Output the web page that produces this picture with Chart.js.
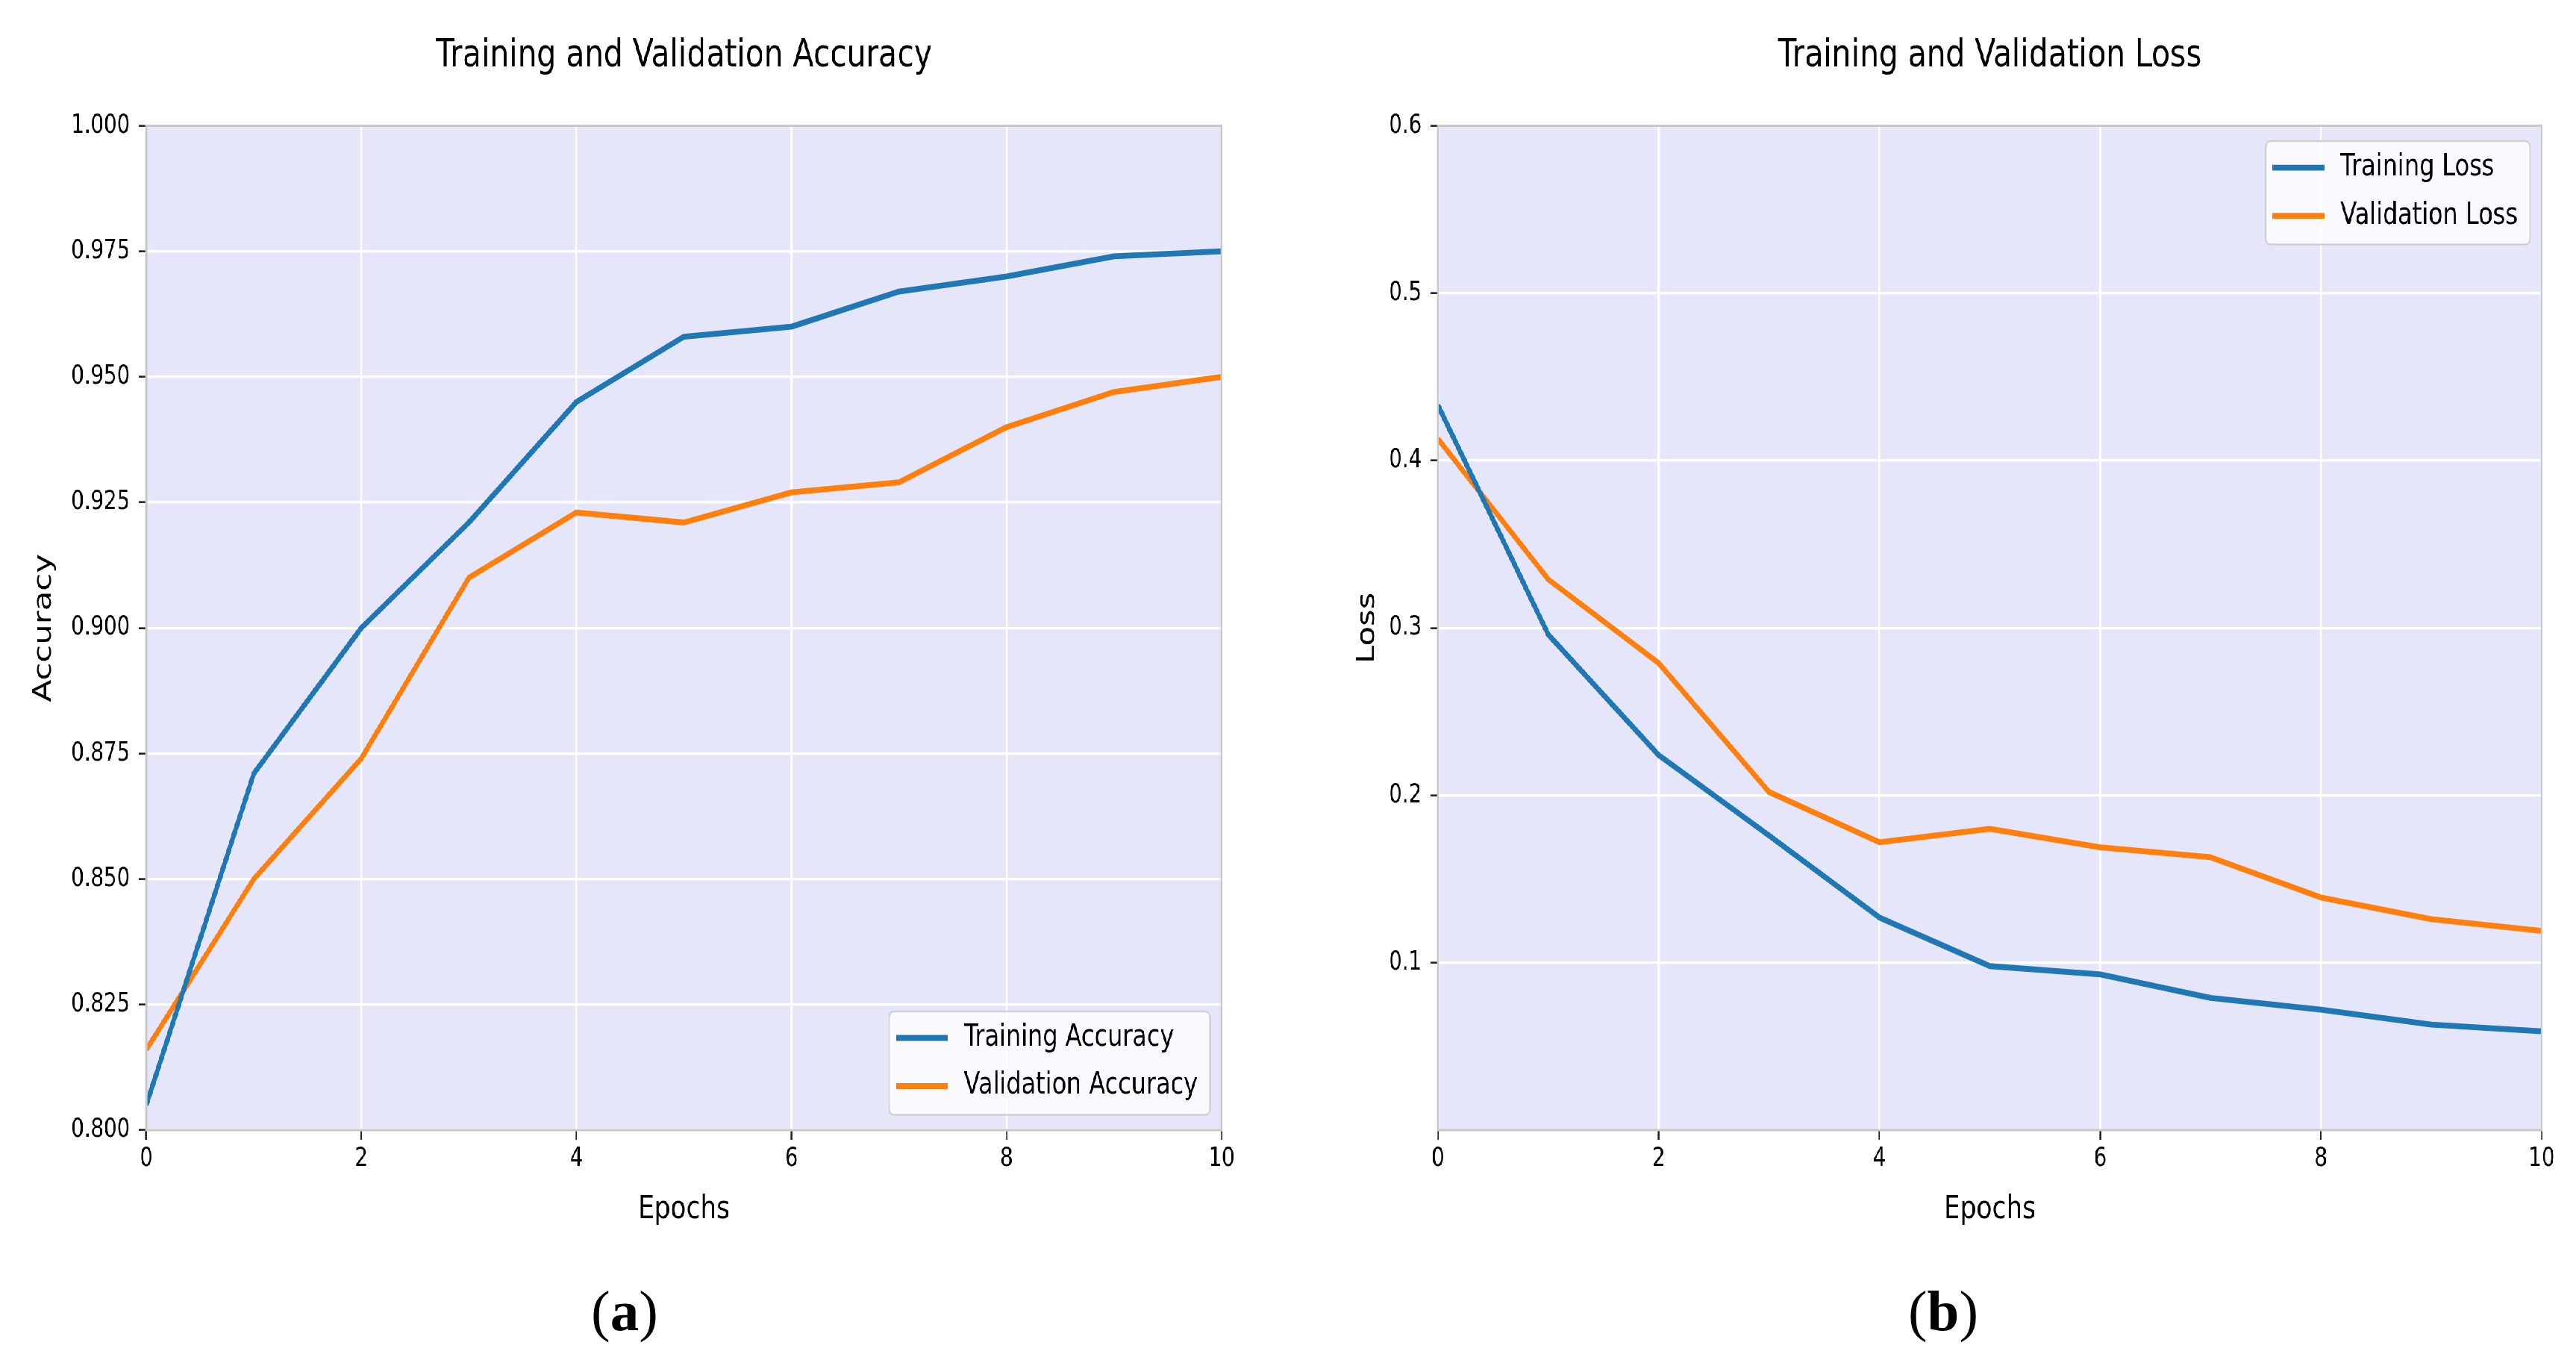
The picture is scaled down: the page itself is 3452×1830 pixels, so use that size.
<!DOCTYPE html>
<html>
<head>
<meta charset="utf-8">
<script src="https://cdn.jsdelivr.net/npm/chart.js@4.4.1/dist/chart.umd.min.js"></script>
<style>
  html, body { margin: 0; padding: 0; background: #ffffff; }
  body { width: 3452px; height: 1830px; position: relative; overflow: hidden; }
  #squish { position: absolute; left: 0; top: 0; width: 4370px; height: 1700px;
            transform: scaleX(0.79); transform-origin: 0 0; }
  .pane { position: absolute; top: 0; width: 2185px; height: 1700px; }
  .cap { position: absolute; top: 1718px; font-family: "Liberation Serif", "DejaVu Serif", serif;
         font-size: 77px; line-height: 1; transform: translateX(-50%); white-space: nowrap; color: #000; }
</style>
</head>
<body>
<div id="squish">
  <div class="pane" style="left:0px"><canvas id="accChart" width="2185" height="1700"></canvas></div>
  <div class="pane" style="left:2185px"><canvas id="lossChart" width="2185" height="1700"></canvas></div>
</div>
<div class="cap" style="left:837px">(<b>a</b>)</div>
<div class="cap" style="left:2604px">(<b>b</b>)</div>

<script>
// ---------------- data ----------------
const epochs = [0, 1, 2, 3, 4, 5, 6, 7, 8, 9, 10];
const trainAcc = [0.805, 0.871, 0.900, 0.921, 0.945, 0.958, 0.960, 0.967, 0.970, 0.974, 0.975];
const valAcc   = [0.816, 0.850, 0.874, 0.910, 0.923, 0.921, 0.927, 0.929, 0.940, 0.947, 0.950];
const trainLoss = [0.433, 0.296, 0.224, 0.176, 0.127, 0.098, 0.093, 0.079, 0.072, 0.063, 0.059];
const valLoss   = [0.413, 0.329, 0.279, 0.202, 0.172, 0.180, 0.169, 0.163, 0.139, 0.126, 0.119];
const epochTicks = [0, 2, 4, 6, 8, 10];
const accTicks = [0.800, 0.825, 0.850, 0.875, 0.900, 0.925, 0.950, 0.975, 1.000];
const lossTicks = [0.1, 0.2, 0.3, 0.4, 0.5, 0.6];
const accTitle = 'Training and Validation Accuracy';
const lossTitle = 'Training and Validation Loss';
const accLabels = ['Training Accuracy', 'Validation Accuracy'];
const lossLabels = ['Training Loss', 'Validation Loss'];

// ---------------- styles ----------------
const BLUE = '#1f77b4', ORANGE = '#ff7f0e';
const FONT = '"DejaVu Sans"';

function roundRectPath(ctx, x, y, w, h, r) {
  ctx.beginPath();
  ctx.moveTo(x + r, y);
  ctx.lineTo(x + w - r, y);
  ctx.arcTo(x + w, y, x + w, y + r, r);
  ctx.lineTo(x + w, y + h - r);
  ctx.arcTo(x + w, y + h, x + w - r, y + h, r);
  ctx.lineTo(x + r, y + h);
  ctx.arcTo(x, y + h, x, y + h - r, r);
  ctx.lineTo(x, y + r);
  ctx.arcTo(x, y, x + r, y, r);
  ctx.closePath();
}

const plotDecor = {
  id: 'plotDecor',
  beforeDraw(chart, args, o) {
    const { ctx, chartArea: a } = chart;
    ctx.save();
    ctx.fillStyle = o.background;
    ctx.fillRect(a.left, a.top, a.right - a.left, a.bottom - a.top);
    ctx.restore();
  },
  afterDatasetsDraw(chart, args, o) {
    const { ctx, chartArea: a } = chart;
    ctx.save();
    ctx.strokeStyle = o.frameColor;
    ctx.lineWidth = o.frameWidth;
    ctx.strokeRect(a.left, a.top, a.right - a.left, a.bottom - a.top);

    const L = o.legend;
    ctx.font = L.fontSize + 'px ' + FONT;
    const items = chart.data.datasets.map(d => ({ label: d.label, color: d.borderColor, width: d.borderWidth }));
    const textW = Math.max(...items.map(i => ctx.measureText(i.label).width));
    const w = L.padLeft + L.handleLength + L.handleGap + textW + L.padRight;
    const h = L.padTop + L.rowGap * (items.length - 1) + L.padBottom;
    const x = a.right - L.marginX - w;
    const y = L.corner === 'top' ? a.top + L.marginY : a.bottom - L.marginY - h;
    roundRectPath(ctx, x, y, w, h, L.radius);
    ctx.fillStyle = L.background;
    ctx.fill();
    ctx.lineWidth = L.borderWidth;
    ctx.strokeStyle = L.borderColor;
    ctx.stroke();
    items.forEach((it, i) => {
      const cy = y + L.padTop + i * L.rowGap;
      ctx.beginPath();
      ctx.moveTo(x + L.padLeft, cy);
      ctx.lineTo(x + L.padLeft + L.handleLength, cy);
      ctx.strokeStyle = it.color;
      ctx.lineWidth = it.width;
      ctx.lineCap = 'butt';
      ctx.stroke();
      ctx.fillStyle = '#000';
      ctx.textBaseline = 'middle';
      ctx.textAlign = 'left';
      ctx.fillText(it.label, x + L.padLeft + L.handleLength + L.handleGap, cy);
    });
    ctx.restore();
  }
};

function makeChart(id, cfg) {
  const ds = (label, vals, color) => ({
    label: label,
    data: epochs.map((e, i) => ({ x: e, y: vals[i] })),
    borderColor: color,
    backgroundColor: color,
    borderWidth: 7.8,
    pointRadius: 0,
    pointHoverRadius: 0,
    tension: 0,
    fill: false,
    borderJoinStyle: 'round',
    clip: 0
  });
  return new Chart(document.getElementById(id), {
    type: 'line',
    data: {
      datasets: [
        ds(cfg.labels[0], cfg.series[0], BLUE),
        ds(cfg.labels[1], cfg.series[1], ORANGE)
      ]
    },
    options: {
      responsive: false,
      animation: false,
      devicePixelRatio: 1,
      events: [],
      layout: { padding: { left: 0, top: 0, bottom: 0, right: cfg.rightPad } },
      plugins: {
        legend: { display: false },
        tooltip: { enabled: false },
        title: {
          display: true, text: cfg.title, fullSize: false, color: '#000',
          font: { family: FONT, size: 51.7, weight: 'normal' },
          padding: { top: 44.2, bottom: 62.3 }
        },
        plotDecor: {
          background: '#e6e6fa', frameColor: '#c8c8c8', frameWidth: 3,
          legend: {
            corner: cfg.legendCorner, fontSize: 40.4,
            marginX: 19.5, marginY: 20.5,
            padLeft: 12, handleLength: 88, handleGap: 27, padRight: 21,
            padTop: 35.5, rowGap: 64.5, padBottom: 38.5,
            radius: 8, background: 'rgba(255,255,255,0.8)', borderColor: '#d0d0d0', borderWidth: 2.5
          }
        }
      },
      scales: {
        x: {
          type: 'linear', min: 0, max: 10,
          afterBuildTicks: s => { s.ticks = epochTicks.map(v => ({ value: v })); },
          afterFit: s => { s.height = 186; },
          grid: { color: '#ffffff', lineWidth: 3.3, drawTicks: true, tickLength: 13, tickColor: '#222', tickWidth: 2.6 },
          border: { display: false },
          ticks: { color: '#000', font: { family: FONT, size: 35 }, padding: 5, maxRotation: 0, autoSkip: false,
                   callback: v => String(v) },
          title: { display: true, text: 'Epochs', color: '#000', font: { family: FONT, size: 43.5 },
                   padding: { top: 0, bottom: 52.9 } }
        },
        y: {
          type: 'linear', min: cfg.yMin, max: cfg.yMax,
          afterBuildTicks: s => { s.ticks = cfg.yTicks.map(v => ({ value: v })); },
          afterFit: s => { s.width = cfg.yAxisW; },
          grid: { color: '#ffffff', lineWidth: 3.3, drawTicks: true, tickLength: 13, tickColor: '#222', tickWidth: 2.6 },
          border: { display: false },
          ticks: { color: '#000', font: { family: FONT, size: 35 }, padding: 14.5, autoSkip: false,
                   callback: v => v.toFixed(cfg.decimals) },
          title: { display: true, text: cfg.yLabel, color: '#000', font: { family: FONT, size: 43.5 },
                   padding: { top: cfg.yTitlePad, bottom: 0 } }
        }
      }
    },
    plugins: [plotDecor]
  });
}

makeChart('accChart', {
  title: accTitle, labels: accLabels, series: [trainAcc, valAcc],
  yMin: 0.8, yMax: 1.0, yTicks: accTicks, decimals: 3, yLabel: 'Accuracy',
  yAxisW: 248.1, rightPad: 112.8, yTitlePad: 48.2, legendCorner: 'bottom'
});
makeChart('lossChart', {
  title: lossTitle, labels: lossLabels, series: [trainLoss, valLoss],
  yMin: 0, yMax: 0.6, yTicks: lossTicks, decimals: 1, yLabel: 'Loss',
  yAxisW: 254.2, rightPad: 58.6, yTitlePad: 108.2, legendCorner: 'top'
});
</script>
</body>
</html>
